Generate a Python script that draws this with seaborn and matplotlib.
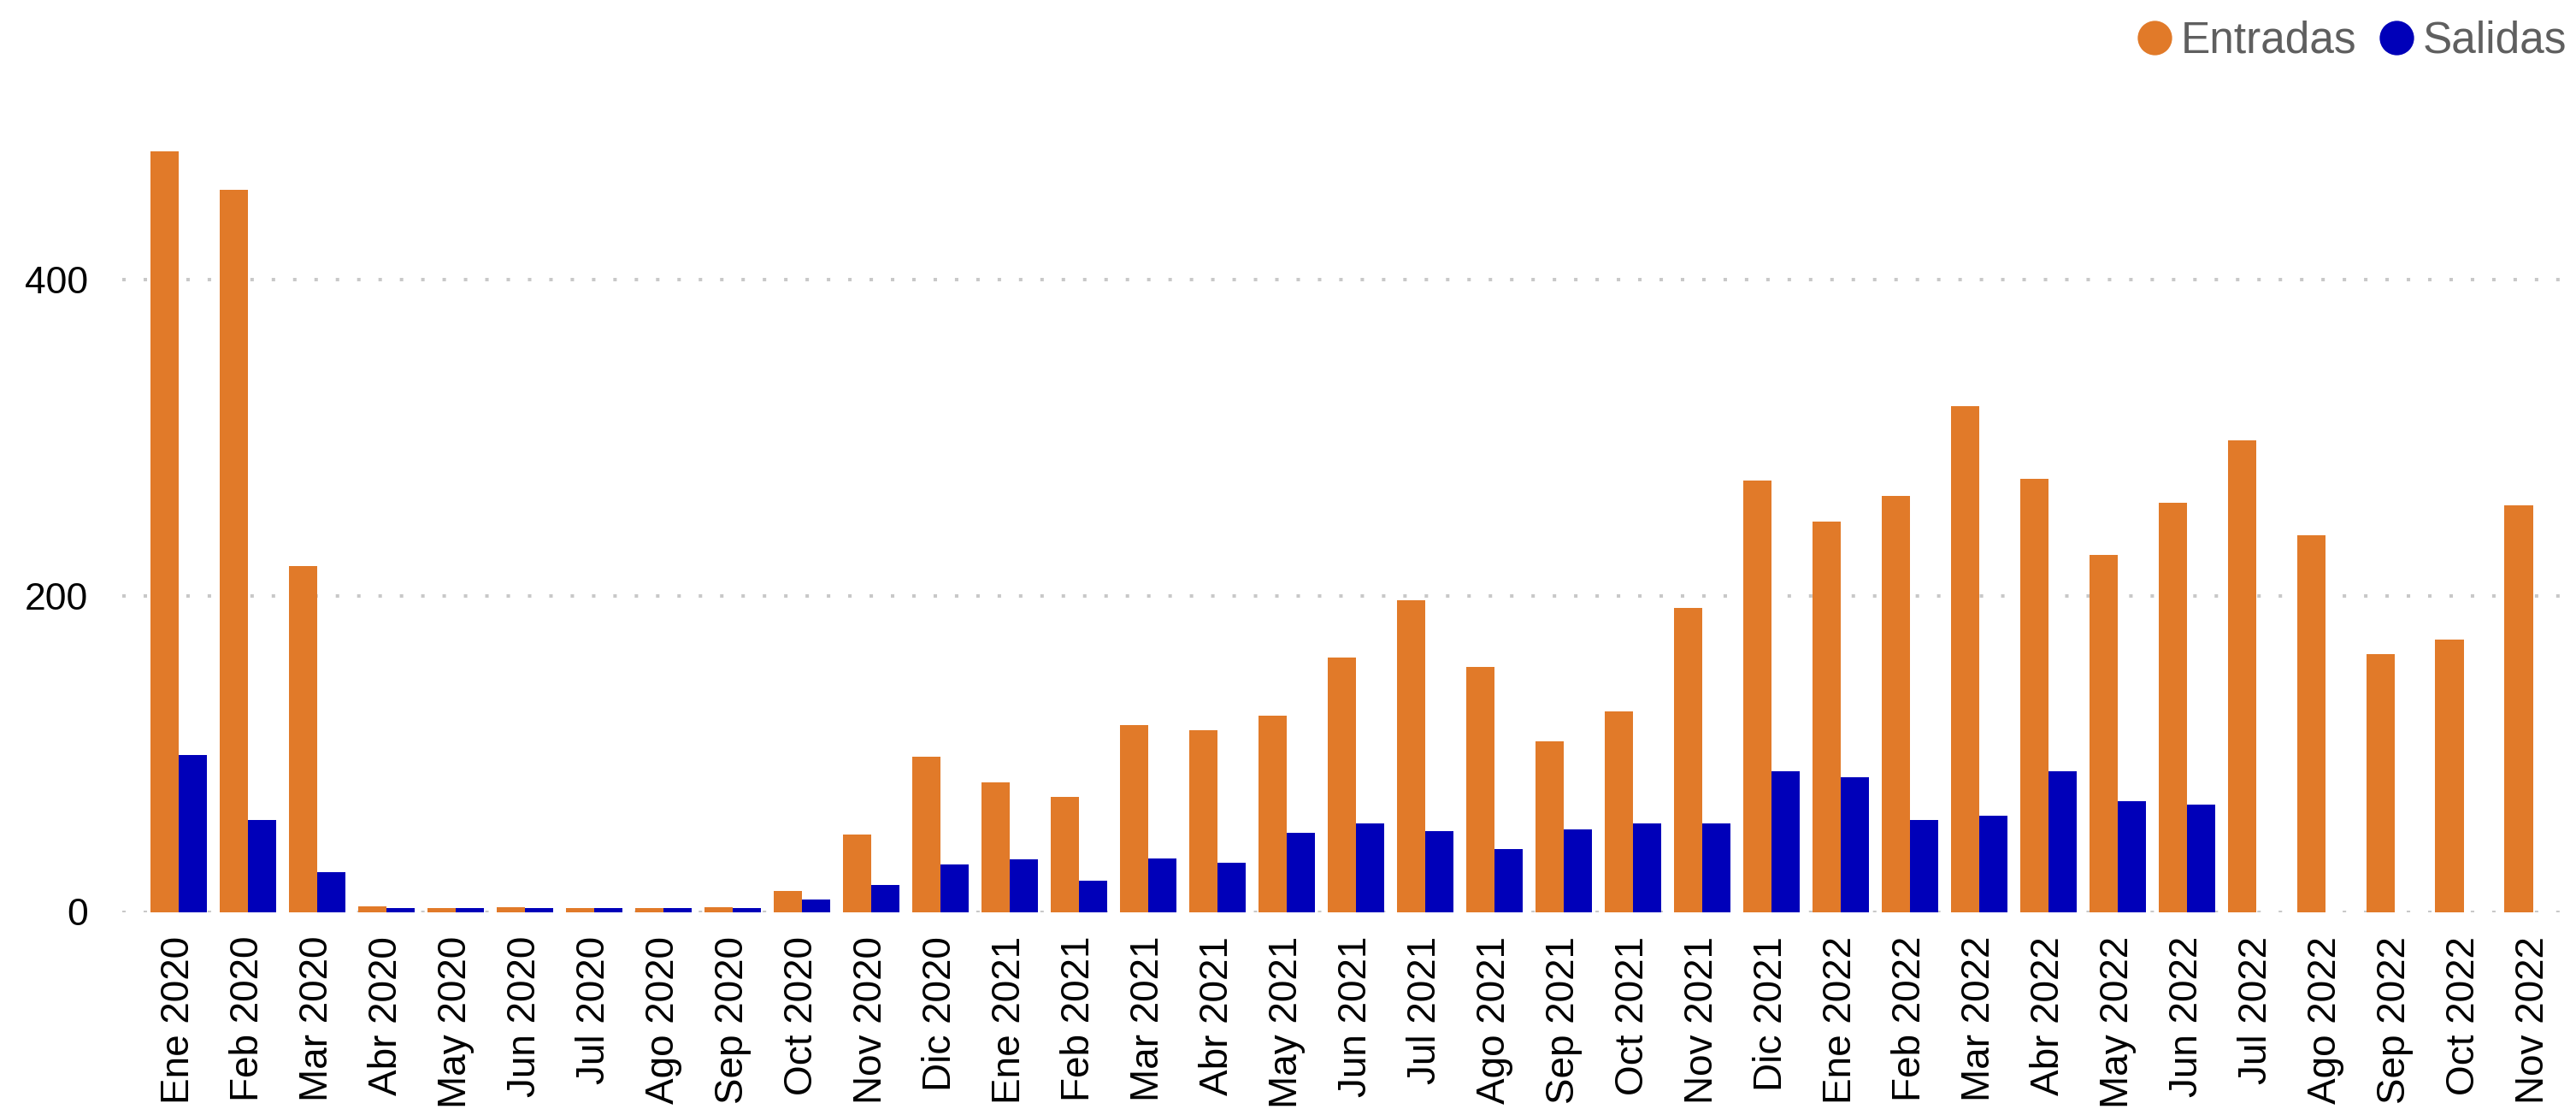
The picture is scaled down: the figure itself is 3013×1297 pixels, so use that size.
import numpy as np
import pandas as pd
import matplotlib
matplotlib.use("Agg")
import matplotlib.pyplot as plt
from matplotlib.lines import Line2D
import seaborn as sns

# Monthly categories
months = [
    "Ene 2020", "Feb 2020", "Mar 2020", "Abr 2020", "May 2020", "Jun 2020",
    "Jul 2020", "Ago 2020", "Sep 2020", "Oct 2020", "Nov 2020", "Dic 2020",
    "Ene 2021", "Feb 2021", "Mar 2021", "Abr 2021", "May 2021", "Jun 2021",
    "Jul 2021", "Ago 2021", "Sep 2021", "Oct 2021", "Nov 2021", "Dic 2021",
    "Ene 2022", "Feb 2022", "Mar 2022", "Abr 2022", "May 2022", "Jun 2022",
    "Jul 2022", "Ago 2022", "Sep 2022", "Oct 2022", "Nov 2022",
]

entradas = [
    481, 457, 219, 3.6, 2.5, 3.1, 2.5, 2.5, 3.1, 13, 49, 98,
    82, 73, 118, 115, 124, 161, 197, 155, 108, 127, 192, 273,
    247, 263, 320, 274, 226, 259, 298, 238, 163, 172, 257,
]

salidas = [
    99, 58, 25, 2.5, 2.5, 2.5, 2.5, 2.5, 2.5, 8, 17, 30,
    33, 20, 34, 31, 50, 56, 51, 40, 52, 56, 56, 89,
    85, 58, 61, 89, 70, 68, np.nan, np.nan, np.nan, np.nan, np.nan,
]

series_names = ["Entradas", "Salidas"]
series_colors = ["#E17A29", "#0000B9"]
y_ticks = [0, 200, 400]

df = pd.DataFrame({
    "mes": months * 2,
    "serie": [series_names[0]] * len(months) + [series_names[1]] * len(months),
    "valor": entradas + salidas,
})

sns.set_theme(style="white")
plt.rcParams["font.family"] = ["Liberation Sans", "DejaVu Sans"]

W, H = 3013, 1297
fig = plt.figure(figsize=(W / 100, H / 100), dpi=100)
ax = fig.add_axes([143 / W, (H - 1066.5) / H, (3003 - 143) / W, (1066.5 - 142) / H])

# Dotted horizontal gridlines drawn beneath the bars
for yv in y_ticks:
    ax.axhline(yv, color="#C8C8C8", linewidth=2.9, linestyle=(0, (1, 5.2)), zorder=0)

sns.barplot(
    data=df, x="mes", y="valor", hue="serie", order=months,
    hue_order=series_names, palette=series_colors, width=0.815,
    errorbar=None, saturation=1, legend=False, ax=ax, zorder=2,
    linewidth=0,
)

ax.set_xlim(-0.81, len(months) - 0.5)
ax.set_ylim(0, 500)
ax.set_yticks(y_ticks)
ax.set_yticklabels([str(v) for v in y_ticks])
ax.set_xlabel("")
ax.set_ylabel("")
ax.grid(False)
for s in ax.spines.values():
    s.set_visible(False)

ax.tick_params(axis="x", length=0, pad=20.5, labelsize=33, labelcolor="#000000", rotation=90)
ax.tick_params(axis="y", length=0, pad=29, labelsize=32, labelcolor="#000000")
for lab in ax.get_xticklabels():
    lab.set_va("top")
    lab.set_ha("center")

handles = [
    Line2D([], [], linestyle="none", marker="o", markersize=29,
           markerfacecolor=c, markeredgewidth=0)
    for c in series_colors
]
fig.legend(
    handles, series_names, loc="center right",
    bbox_to_anchor=(1 - 11 / W, 1 - 48 / H), ncol=2, frameon=False,
    fontsize=37, labelcolor="#5F5F5F", handlelength=0.8, handletextpad=0.2,
    columnspacing=0.5, borderpad=0, borderaxespad=0,
)

fig.savefig("out.png", dpi=100, facecolor="white")
